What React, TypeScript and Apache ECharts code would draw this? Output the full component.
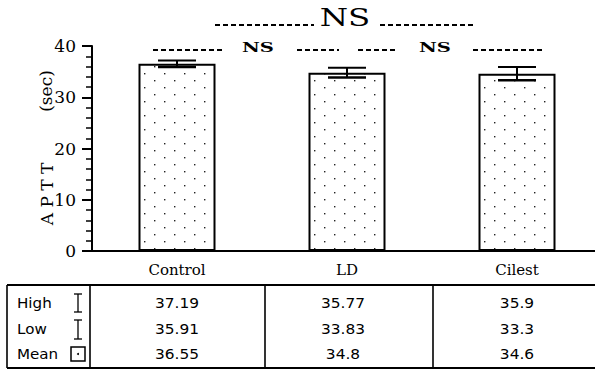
import React, { useEffect, useRef } from "react";
import * as echarts from "echarts";

const categories = ["Control", "LD", "Cilest"];
const highValues = [37.19, 35.77, 35.9];
const lowValues = [35.91, 33.83, 33.3];
const meanValues = [36.55, 34.8, 34.6];
const highLabels = ["37.19", "35.77", "35.9"];
const lowLabels = ["35.91", "33.83", "33.3"];
const meanLabels = ["36.55", "34.8", "34.6"];
const rowNames = ["High", "Low", "Mean"];

function makePattern() {
  const c = document.createElement("canvas");
  c.width = 20;
  c.height = 14;
  const ctx = c.getContext("2d")!;
  ctx.fillStyle = "#ffffff";
  ctx.fillRect(0, 0, 20, 14);
  ctx.fillStyle = "#222222";
  ctx.fillRect(4, 3, 1.4, 1.4);
  ctx.fillRect(14, 10, 1.4, 1.4);
  return { image: c.toDataURL(), repeat: "repeat", imageWidth: 20, imageHeight: 14 };
}

export default function App() {
  const ref = useRef<HTMLDivElement>(null);
  useEffect(() => {
    const chart = echarts.init(ref.current!, null, { renderer: "svg" });
    const serif = "DejaVu Serif";
    const sans = "DejaVu Sans";
    const txt = (text: string, x: number, y: number, size: number, family: string, extra: any = {}, align = "center") => ({
      type: "text",
      x,
      y,
      ...extra,
      style: {
        text,
        fontSize: size,
        fontFamily: family,
        fontWeight: extra.weight || "normal",
        fill: "#000",
        textAlign: align,
        textVerticalAlign: "middle",
      },
    });
    const dash = (x1: number, x2: number, y: number) => ({
      type: "line",
      shape: { x1, y1: y, x2, y2: y },
      style: { stroke: "#000", lineWidth: 2, lineDash: [5, 3] },
      silent: true,
    });
    const colX = [177, 343, 517];
    const rowY = [303, 329, 354];
    const tableEls: any[] = [];
    const hLine = (x1: number, x2: number, y: number, w = 1.6) => ({
      type: "line",
      shape: { x1, y1: y, x2, y2: y },
      style: { stroke: "#000", lineWidth: w },
    });
    const vLine = (x: number, y1: number, y2: number, w = 1.6) => ({
      type: "line",
      shape: { x1: x, y1, x2: x, y2 },
      style: { stroke: "#000", lineWidth: w },
    });
    tableEls.push(hLine(7, 595, 285, 2));
    tableEls.push(hLine(7, 595, 368, 2));
    tableEls.push(vLine(7, 285, 368));
    tableEls.push(vLine(90, 285, 368));
    tableEls.push(vLine(265, 285, 368));
    tableEls.push(vLine(433, 285, 368));
    const rows = [highLabels, lowLabels, meanLabels];
    rowNames.forEach((n, r) => {
      tableEls.push(txt(n, 17, rowY[r], 14, sans, { scaleX: 1.08 }, "left"));
      rows[r].forEach((v, c) => {
        tableEls.push(txt(v, colX[c], rowY[r], 14, sans, { scaleX: 1.1 }));
      });
    });
    [[294, 312], [320, 339]].forEach(([a, b]) => {
      tableEls.push(vLine(78, a, b, 1.3));
      tableEls.push(hLine(74, 82, a, 1.3));
      tableEls.push(hLine(74, 82, b, 1.3));
    });
    tableEls.push({
      type: "rect",
      shape: { x: 71, y: 347, width: 14, height: 14 },
      style: { fill: "none", stroke: "#000", lineWidth: 1.5 },
    });
    tableEls.push({ type: "circle", shape: { cx: 78, cy: 354, r: 1 }, style: { fill: "#000" } });

    const option: any = {
      animation: false,
      grid: { left: 92, top: 46, width: 510, height: 205, containLabel: false, outerBoundsMode: "none" },
      xAxis: {
        type: "category",
        data: categories,
        axisLine: { lineStyle: { color: "#000", width: 2 } },
        axisTick: { alignWithLabel: true, length: 3, lineStyle: { color: "#000", width: 1.5 } },
        axisLabel: { color: "#000", fontFamily: serif, fontSize: 15, margin: 11 },
      },
      yAxis: {
        type: "value",
        min: 0,
        max: 40,
        interval: 10,
        axisLine: { show: true, lineStyle: { color: "#000", width: 2 } },
        axisTick: { show: true, length: 10, lineStyle: { color: "#000", width: 2 } },
        minorTick: { show: true, splitNumber: 5, length: 6, lineStyle: { color: "#000", width: 1.5 } },
        splitLine: { show: false },
        axisLabel: { color: "#000", fontFamily: serif, fontSize: 17, margin: 16 },
      },
      series: [
        {
          type: "bar",
          data: meanValues,
          barWidth: 77,
          itemStyle: { color: makePattern(), borderColor: "#000", borderWidth: 2 },
        },
        {
          type: "custom",
          data: categories.map((_, i) => [i, lowValues[i], highValues[i]]),
          encode: { x: 0, y: [1, 2] },
          z: 5,
          renderItem: (params: any, api: any) => {
            const i = api.value(0);
            const lo = api.coord([i, api.value(1)]);
            const hi = api.coord([i, api.value(2)]);
            const hw = 19;
            const st = { stroke: "#000", lineWidth: 2 };
            return {
              type: "group",
              children: [
                { type: "line", shape: { x1: hi[0], y1: hi[1], x2: lo[0], y2: lo[1] }, style: st },
                { type: "line", shape: { x1: hi[0] - hw, y1: hi[1], x2: hi[0] + hw, y2: hi[1] }, style: st },
                { type: "line", shape: { x1: lo[0] - hw, y1: lo[1], x2: lo[0] + hw, y2: lo[1] }, style: { stroke: "#000", lineWidth: 2.5 } },
              ],
            };
          },
        },
      ],
      graphic: {
        elements: [
          dash(215, 314, 25),
          dash(380, 476, 25),
          txt("NS", 345, 18, 24, serif, { scaleX: 1.35 }),
          dash(153, 223, 50),
          dash(297, 339, 50),
          dash(358, 398, 50),
          dash(473, 543, 50),
          txt("NS", 258, 47, 13, serif, { scaleX: 1.5, weight: "bold" }),
          txt("NS", 435, 47, 13, serif, { scaleX: 1.5, weight: "bold" }),
          txt("A P T T", 47, 194, 17, serif, { rotation: Math.PI / 2 }),
          txt("(sec)", 46, 91, 17, serif, { rotation: Math.PI / 2 }),
          ...tableEls,
        ],
      },
    };
    chart.setOption(option);
    return () => chart.dispose();
  }, []);
  return (
    <div
      ref={ref}
      style={{ position: "fixed", left: 0, top: 0, width: 595, height: 369, background: "#fff" }}
    />
  );
}
